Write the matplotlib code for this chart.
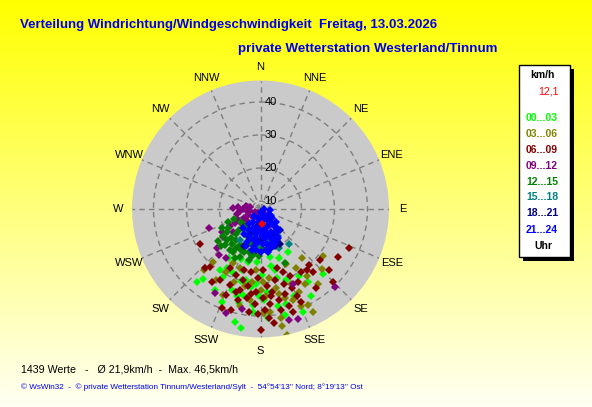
import numpy as np
import matplotlib
matplotlib.use("Agg")
import matplotlib.pyplot as plt
from matplotlib.patches import Rectangle
from matplotlib.transforms import offset_copy

# -----------------------------
# Data: wind direction (deg) / speed (km/h) per 3-hour band
# -----------------------------
dir_00_03 = [221.2, 219.2, 209.9, 200.8, 192.5, 189.5, 192.6, 168.2, 135.9, 146.9,
             158.8, 157.8, 147.2, 167.2, 176.3, 196.4, 208.6, 195.5, 187.3, 202.2,
             191.8, 184.2, 175.2, 178.3, 199.1, 184.3, 167.1, 159.9, 158.7, 169.5,
             213.1, 209.1, 181.3, 192.8, 204.0, 177.5, 164.7, 150.4, 166.9, 191.2,
             195.4, 183.1, 213.3, 150.1, 170.0, 184.4]
spd_00_03 = [37.0, 35.0, 28.2, 23.8, 42.7, 44.2, 36.8, 22.4, 35.0, 23.1,
             23.5, 41.3, 33.9, 40.5, 40.7, 26.9, 31.1, 30.2, 31.4, 38.1,
             34.2, 36.8, 32.8, 27.6, 33.6, 23.7, 26.6, 30.5, 35.9, 37.5,
             25.3, 35.7, 34.0, 24.1, 28.5, 35.2, 37.4, 30.9, 29.1, 29.5,
             34.9, 30.4, 29.7, 38.0, 25.1, 38.9]

dir_03_06 = [221.6, 211.8, 203.3, 207.4, 178.3, 127.2, 134.5, 142.3, 153.2, 153.9,
             169.4, 168.1, 140.1, 223.0, 198.7, 186.3, 180.0, 173.4, 168.6, 164.9,
             160.6, 155.4, 149.6, 145.5, 148.6, 154.7, 176.1, 186.3, 191.7, 174.5,
             169.6, 191.7, 199.6, 157.6, 183.8, 178.4, 158.2, 168.0, 208.4]
spd_03_06 = [29.1, 32.9, 36.0, 26.0, 39.1, 31.2, 33.5, 36.3, 42.6, 40.0,
             43.7, 46.5, 27.0, 32.9, 26.5, 29.8, 32.1, 28.7, 32.0, 35.5,
             36.8, 35.3, 34.0, 32.2, 28.5, 26.0, 34.0, 35.3, 37.6, 39.0,
             41.2, 31.4, 31.1, 39.4, 26.1, 29.7, 32.1, 33.9, 29.3]

dir_06_09 = [239.7, 223.5, 220.8, 213.3, 201.0, 196.5, 186.1, 180.0, 173.5, 175.3,
             113.9, 121.9, 131.9, 130.4, 140.5, 135.4, 145.2, 139.4, 156.7, 142.4,
             200.7, 194.2, 188.9, 183.4, 178.7, 174.0, 168.8, 163.6, 158.0, 152.5,
             155.9, 160.7, 168.8, 175.5, 181.7, 189.0, 193.9, 188.9, 183.6, 177.7,
             168.8, 163.9, 157.5, 171.8, 162.3, 194.7, 201.5, 193.6, 147.6, 164.8,
             178.1, 201.6, 181.1, 162.7, 206.9, 173.4, 186.7, 196.1, 209.4]
spd_06_09 = [28.7, 32.2, 30.8, 34.1, 39.7, 39.5, 39.0, 44.3, 42.4, 40.8,
             36.8, 35.1, 35.3, 31.4, 32.4, 38.7, 36.8, 30.0, 38.3, 30.9,
             29.0, 29.8, 31.2, 32.8, 34.6, 36.5, 35.7, 34.4, 33.4, 32.5,
             29.8, 27.8, 29.5, 31.0, 28.5, 26.9, 32.9, 34.9, 36.4, 38.2,
             38.8, 38.2, 36.1, 33.0, 31.4, 26.7, 32.4, 36.0, 30.2, 26.1,
             26.1, 35.6, 39.4, 40.3, 27.7, 34.1, 33.5, 33.8, 32.3]

dir_09_12 = [258.2, 264.3, 266.0, 258.7, 239.0, 206.6, 243.4, 242.1, 243.4, 225.0,
             146.3, 209.7, 227.3, 240.8, 231.7, 240.5, 229.6, 238.8, 166.0, 183.4,
             148.0, 249.5, 232.9, 227.8, 221.7, 215.5, 198.1, 190.2, 136.5, 161.4,
             165.4, 156.3, 208.2, 272.0, 275.0, 281.0, 281.0, 270.0]
spd_09_12 = [15.0, 13.7, 12.1, 10.7, 9.4, 9.0, 11.7, 13.4, 15.1, 11.0,
             8.7, 10.1, 13.0, 16.3, 14.9, 18.1, 18.4, 21.1, 16.4, 17.9,
             13.3, 24.1, 21.7, 25.2, 26.3, 25.8, 40.8, 38.4, 40.2, 42.8,
             42.4, 32.4, 36.5, 15.8, 14.3, 12.2, 10.7, 12.8]

dir_12_15 = [249.7, 239.3, 234.6, 233.3, 224.2, 213.1, 202.6, 193.2, 217.7, 205.9,
             226.0, 226.3, 207.4, 195.9, 200.4, 187.9, 235.9, 227.2, 212.7, 200.9,
             187.4, 219.5, 247.9, 177.1, 182.4, 156.0, 237.0, 207.9, 223.8, 218.7,
             206.0, 195.6, 227.6, 220.1, 210.7, 189.7, 243.4, 216.2]
spd_12_15 = [16.3, 18.9, 21.7, 23.8, 22.8, 23.1, 23.4, 23.5, 19.5, 20.1,
             20.2, 16.8, 16.8, 18.6, 21.5, 20.8, 20.0, 24.1, 21.6, 14.4,
             17.1, 14.3, 18.1, 19.4, 21.8, 25.5, 14.8, 24.4, 18.1, 21.2,
             21.4, 21.1, 21.5, 15.1, 20.6, 22.1, 20.5, 23.0]

dir_15_18 = [141.3, 147.8, 155.2, 196.5, 211.3, 183.1, 169.0, 212.8]
spd_15_18 = [21.2, 17.3, 20.6, 16.1, 15.8, 18.8, 17.2, 18.8]

dir_18_21 = [137.9, 150.3, 159.3, 144.0, 193.2, 170.9, 201.8, 203.4, 180.0, 155.2, 169.7]
spd_18_21 = [16.2, 19.8, 19.6, 11.7, 12.9, 15.3, 15.8, 19.8, 17.0, 16.3, 11.0]

dir_21_24 = [158.2, 122.0, 126.9, 153.4, 192.5, 211.6, 180.0, 151.9, 140.5, 139.4,
             194.7, 174.6, 156.5, 149.3, 209.7, 189.1, 172.1, 158.8, 199.0, 183.5,
             170.3, 212.6, 165.6, 189.2, 203.0, 129.1, 90.0, 95.7, 218.7, 223.5,
             156.8, 180.0, 191.0, 169.5, 162.5, 220.6, 161.0, 175.8, 139.9, 188.7,
             139.4, 141.3, 166.8, 202.8, 180.0, 163.5, 191.0, 176.7, 204.0, 148.7,
             164.1, 185.6, 171.7, 200.7, 152.7, 125.0, 167.5, 187.9, 165.4, 185.4,
             162.0, 148.2, 180.0, 194.6]
spd_21_24 = [9.2, 10.5, 12.1, 11.0, 10.4, 12.2, 12.1, 12.8, 14.3, 16.0,
             13.5, 14.0, 15.2, 17.1, 14.9, 15.3, 16.5, 17.7, 16.9, 17.6,
             18.4, 16.6, 19.8, 19.0, 18.4, 13.8, 8.8, 10.6, 13.4, 15.5,
             19.1, 20.6, 20.3, 20.8, 13.6, 10.4, 16.9, 15.8, 15.1, 11.6,
             10.4, 13.4, 12.9, 13.8, 14.6, 16.1, 17.2, 18.2, 16.5, 15.8,
             18.6, 20.1, 20.1, 19.6, 18.2, 11.3, 10.4, 16.5, 14.8, 14.0,
             19.4, 17.9, 8.5, 14.8]

current_dir = [172.4]
current_spd = [12.1]

bands = ["00...03", "03...06", "06...09", "09...12", "12...15", "15...18", "18...21", "21...24"]
band_colors = ["#00ff00", "#808000", "#800000", "#800080", "#008000", "#008080", "#000080", "#0000ff"]
band_dirs = [dir_00_03, dir_03_06, dir_06_09, dir_09_12, dir_12_15, dir_15_18, dir_18_21, dir_21_24]
band_spds = [spd_00_03, spd_03_06, spd_06_09, spd_09_12, spd_12_15, spd_15_18, spd_18_21, spd_21_24]

compass = ["N", "NNE", "NE", "ENE", "E", "ESE", "SE", "SSE",
           "S", "SSW", "SW", "WSW", "W", "WNW", "NW", "NNW"]
rings = [10, 20, 30, 40]
r_min, r_max = 7.6, 46.5

title = "Verteilung Windrichtung/Windgeschwindigkeit  Freitag, 13.03.2026"
subtitle = "private Wetterstation Westerland/Tinnum"
stats = "1439 Werte   -   \u00d8 21,9km/h  -  Max. 46,5km/h"
credit = ("\u00a9 WsWin32  -  \u00a9 private Wetterstation Tinnum/Westerland/Sylt  -  "
          "54\u00b054'13'' Nord; 8\u00b019'13'' Ost")

FONT = "Liberation Sans"

# -----------------------------
# Figure + yellow gradient background
# -----------------------------
W, H = 592, 407
fig = plt.figure(figsize=(W / 100, H / 100), dpi=100)
bg = fig.add_axes([0, 0, 1, 1])
bg.set_xlim(0, W)
bg.set_ylim(H, 0)
bg.axis("off")
blue = np.clip(np.arange(H) * 0.6, 0, 245) / 255
img = np.ones((H, 1, 3))
img[:, 0, 2] = blue
bg.imshow(img, extent=(0, W, H, 0), aspect="auto", zorder=0)

# -----------------------------
# Polar plot
# -----------------------------
cx, cy, R = 260.5, 209, 128.5
ax = fig.add_axes([(cx - R) / W, (H - cy - R) / H, 2 * R / W, 2 * R / H], projection="polar")
ax.set_facecolor("#cacaca")
ax.set_theta_zero_location("N")
ax.set_theta_direction(-1)
ax.set_ylim(r_min, r_max)
ax.set_xticks(np.deg2rad(np.arange(0, 360, 22.5)))
ax.set_xticklabels([])
ax.set_yticks(rings)
ax.set_yticklabels([])
ax.grid(True, color="#7f7f7f", linestyle=(0, (4, 3)), linewidth=1)
ax.spines["polar"].set_visible(False)

for i, name in enumerate(compass):
    a = np.deg2rad(i * 22.5)
    ax.text(0.5 + 0.553 * np.sin(a), 0.5 + 0.553 * np.cos(a), name,
            transform=ax.transAxes, ha="center", va="center",
            fontsize=8, family=FONT, color="black")

ring_trans = offset_copy(ax.transData, fig=fig, x=4, y=0, units="dots")
for v in rings:
    ax.text(0, v, str(v), transform=ring_trans, ha="left", va="center",
            fontsize=8, family=FONT, color="black")

for d, s, c in zip(band_dirs, band_spds, band_colors):
    ax.plot(np.deg2rad(d), s, "D", ms=3.9, mew=0, color=c)
ax.plot(np.deg2rad(current_dir), current_spd, "D", ms=3.9, mew=0, color="red")

# -----------------------------
# Legend box
# -----------------------------
bg.add_patch(Rectangle((523, 69), 51, 192, facecolor="black", zorder=2))
bg.add_patch(Rectangle((519, 65), 51, 192, facecolor="white", edgecolor="black", lw=1, zorder=3))
bg.text(542, 75, "km/h", ha="center", va="center", fontsize=7.5, fontweight="bold",
        family=FONT, zorder=4)
bg.text(559, 92, "12,1", ha="right", va="center", fontsize=7.5, color="red",
        family=FONT, zorder=4)
band_y = [118, 134, 150, 166, 182, 197, 213, 230]
for lab, c, y in zip(bands, band_colors, band_y):
    bg.text(526, y, lab, ha="left", va="center", fontsize=7.5, fontweight="bold",
            color=c, family=FONT, zorder=4)
bg.text(543, 246, "Uhr", ha="center", va="center", fontsize=7.5, fontweight="bold",
        family=FONT, zorder=4)

# -----------------------------
# Titles and footer, scaled to the reference widths
# -----------------------------
renderer = fig.canvas.get_renderer()


def fit_text(x, y, s, width, size, **kw):
    t = bg.text(x, y, s, ha="left", va="center", fontsize=size, family=FONT, zorder=4, **kw)
    bb = t.get_window_extent(renderer)
    t.set_fontsize(size * width / bb.width)
    return t


fit_text(20, 25, title, 421, 10, color="#0000f0", fontweight="bold")
fit_text(238, 49, subtitle, 260, 10, color="#0000f0", fontweight="bold")
fit_text(21, 369, stats, 216, 8, color="black")
fit_text(21, 387, credit, 349, 6, color="#0000f0")

plt.savefig("out.png", dpi=100)
